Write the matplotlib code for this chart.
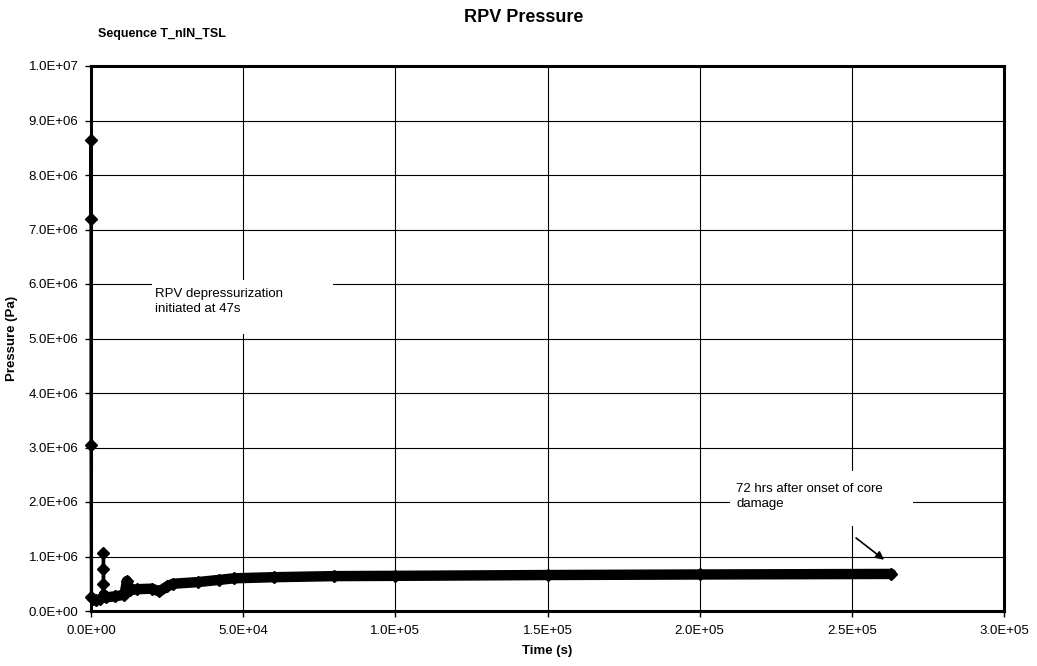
import matplotlib
matplotlib.use("Agg")
import matplotlib.pyplot as plt
from matplotlib.ticker import FormatStrFormatter
from matplotlib.patches import Rectangle
import numpy as np

plt.rcParams["font.family"] = ["Liberation Sans", "DejaVu Sans"]

# RPV pressure history, sequence T_nIN_TSL
time_s = [0, 10, 47, 150, 600, 1500, 3000, 3900, 4000, 4050, 4100, 4200,
          5000, 8000, 11000, 11800, 12800, 15000, 20000, 22500, 25000,
          27000, 35000, 42000, 47000, 60000, 80000, 100000, 150000,
          200000, 263000]
pressure_pa = [7.2e6, 8.65e6, 3.05e6, 0.26e6, 0.22e6, 0.20e6, 0.22e6, 0.27e6,
               0.50e6, 0.77e6, 1.07e6, 0.30e6, 0.25e6, 0.27e6, 0.30e6, 0.55e6,
               0.38e6, 0.40e6, 0.41e6, 0.36e6, 0.45e6, 0.50e6, 0.53e6, 0.57e6,
               0.60e6, 0.62e6, 0.64e6, 0.645e6, 0.66e6, 0.67e6, 0.68e6]

x_ticks = [0, 5e4, 1e5, 1.5e5, 2e5, 2.5e5, 3e5]
y_ticks = [0, 1e6, 2e6, 3e6, 4e6, 5e6, 6e6, 7e6, 8e6, 9e6, 1e7]

t = np.array(time_s)
p = np.array(pressure_pa)

fig = plt.figure(figsize=(10.37, 6.66), dpi=100)
ax = fig.add_axes([91 / 1037, 55 / 666, 913 / 1037, 545 / 666])

# thin trace with diamond markers for the whole series
ax.plot(t, p, color="black", lw=2.4, marker="D", ms=6, zorder=4,
        clip_on=False)
# long-term dense record drawn as a heavy band
late = t >= 4200
ax.plot(t[late], p[late], color="black", lw=7.5, solid_capstyle="round",
        solid_joinstyle="round", zorder=4)

ax.set_xlim(0, 3e5)
ax.set_ylim(0, 1e7)
ax.set_xticks(x_ticks)
ax.set_yticks(y_ticks)
ax.xaxis.set_major_formatter(FormatStrFormatter("%.1E"))
ax.yaxis.set_major_formatter(FormatStrFormatter("%.1E"))
ax.grid(True, color="black", lw=0.8, zorder=1)
ax.set_axisbelow(True)
for s in ax.spines.values():
    s.set_linewidth(2.2)
    s.set_zorder(5)
ax.tick_params(axis="both", direction="out", length=4, width=1,
               labelsize=9.5, colors="black")
ax.tick_params(axis="x", pad=6)
ax.tick_params(axis="y", pad=5)

ax.set_xlabel("Time (s)", fontsize=9.5, fontweight="bold", labelpad=6)
ax.set_ylabel("Pressure (Pa)", fontsize=9.5, fontweight="bold", labelpad=8)

fig.text(524 / 1037, 1 - 18 / 666, "RPV Pressure", fontsize=13,
         fontweight="bold", ha="center", va="center")
fig.text(98 / 1037, 1 - 34 / 666, "Sequence T_nIN_TSL", fontsize=9,
         fontweight="bold", ha="left", va="center")

# white label boxes over the grid
ax.add_patch(Rectangle((2.0e4, 5.08e6), 5.95e4, 1.0e6, facecolor="white",
                       edgecolor="none", zorder=2))
ax.add_patch(Rectangle((2.1e5, 1.56e6), 6.0e4, 1.0e6, facecolor="white",
                       edgecolor="none", zorder=2))

ax.text(2.1e4, 5.93e6, "RPV depressurization\ninitiated at 47s",
        fontsize=9.5, ha="left", va="top", linespacing=1.3, zorder=3)
ax.text(2.12e5, 2.35e6, "72 hrs after onset of core\ndamage",
        fontsize=9.5, ha="left", va="top", linespacing=1.3, zorder=3)
ax.annotate("", xy=(2.606e5, 0.94e6), xytext=(2.514e5, 1.34e6),
            arrowprops=dict(arrowstyle="-|>", color="black", lw=1.2,
                            mutation_scale=12, shrinkA=0, shrinkB=0),
            zorder=3)

fig.savefig("out.png", dpi=100)
